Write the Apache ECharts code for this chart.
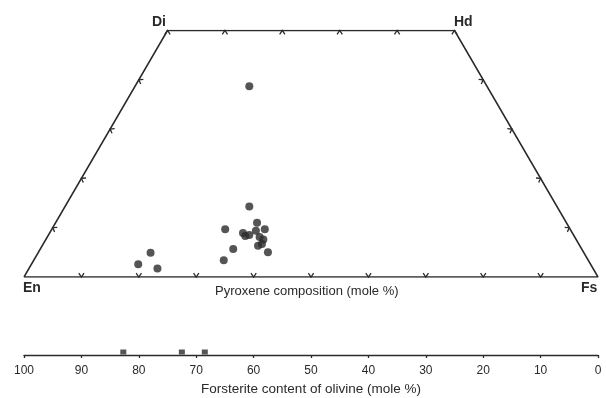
<!DOCTYPE html>
<html>
<head>
<meta charset="utf-8">
<script src="https://cdn.jsdelivr.net/npm/echarts@6/dist/echarts.min.js"></script>
<style>
html,body{margin:0;padding:0;background:#fff;}
#chart{width:606px;height:398px;}
</style>
</head>
<body>
<div id="chart"></div>
<script>
// Pyroxene compositions (mole %): wollastonite and ferrosilite components
const woValues = [38.7, 14.3, 9.7, 11.0, 9.7, 8.9, 8.3, 8.5, 9.4, 8.1, 7.6, 6.7, 6.35, 5.7, 5.0, 3.4, 4.9, 2.6, 1.7];
const fsValues = [19.9, 32.1, 30.2, 35.1, 37.1, 33.7, 34.4, 35.0, 35.7, 37.0, 37.9, 38.1, 37.6, 33.6, 40.0, 33.1, 19.6, 18.6, 22.4];
// Olivine forsterite contents (mole %)
const foValues = [82.7, 72.5, 68.5];
// Quadrilateral corners (Wo, Fs)
const cornerNames = ['En', 'Di', 'Hd', 'Fs'];
const cornerWo = [0, 50, 50, 0];
const cornerFs = [0, 0, 50, 100];
// Tick marks on the quadrilateral edges (mole %)
const baseTicks = [10, 20, 30, 40, 50, 60, 70, 80, 90];
const topTicks = [0, 10, 20, 30, 40, 50];
const sideTicks = [10, 20, 30, 40];
// Forsterite axis tick labels
const foTicks = [100, 90, 80, 70, 60, 50, 40, 30, 20, 10, 0];

const toXY = (wo, fs) => [fs + wo / 2, wo];

const outline = cornerNames.map((n, i) => toXY(cornerWo[i], cornerFs[i]));
outline.push(outline[0].slice());

const pyxData = woValues.map((w, i) => toXY(w, fsValues[i]));

// chevron ticks: [x, y, sideIndex]  0=base 1=top 2=left(Fs=0) 3=right(En=0)
const chevrons = [];
baseTicks.forEach(v => chevrons.push([...toXY(0, v), 0]));
topTicks.forEach(v => chevrons.push([...toXY(50, v), 1]));
sideTicks.forEach(v => chevrons.push([...toXY(v, 0), 2]));
sideTicks.forEach(v => chevrons.push([...toXY(v, 100 - v), 3]));

const sideEnds = [
  [outline[0], outline[3]],
  [outline[1], outline[2]],
  [outline[0], outline[1]],
  [outline[3], outline[2]]
];

const INK = '#2a2a2a';
const FONT = 'Liberation Sans';

const chart = echarts.init(document.getElementById('chart'), null, {renderer: 'canvas'});
chart.setOption({
  animation: false,
  backgroundColor: '#fff',
  grid: [
    {left: 24, width: 574, top: 30.5, height: 246.5},
    {left: 24, width: 574, top: 340, height: 15}
  ],
  xAxis: [
    {gridIndex: 0, type: 'value', min: 0, max: 100, show: false},
    {gridIndex: 1, type: 'value', min: 0, max: 100, interval: 10, inverse: true,
      axisLine: {show: true, onZero: false, lineStyle: {color: INK, width: 1.3}},
      axisTick: {show: true, length: 3, lineStyle: {color: INK, width: 1.3}},
      axisLabel: {show: true, margin: 10, fontSize: 12, color: INK, fontFamily: FONT,
        formatter: v => (foTicks.indexOf(v) >= 0 ? String(v) : '')},
      splitLine: {show: false},
      name: 'Forsterite content of olivine (mole %)',
      nameLocation: 'middle', nameGap: 27,
      nameTextStyle: {fontSize: 13.5, color: INK, fontFamily: FONT}
    }
  ],
  yAxis: [
    {gridIndex: 0, type: 'value', min: 0, max: 50, show: false},
    {gridIndex: 1, type: 'value', min: 0, max: 1, show: false}
  ],
  graphic: [
    {type: 'text', left: 152, top: 15, style: {text: 'Di', fontSize: 14, fontWeight: 'bold', fill: INK, fontFamily: FONT}},
    {type: 'text', left: 454, top: 15, style: {text: 'Hd', fontSize: 14, fontWeight: 'bold', fill: INK, fontFamily: FONT}},
    {type: 'text', left: 23, top: 281, style: {text: 'En', fontSize: 14, fontWeight: 'bold', fill: INK, fontFamily: FONT}},
    {type: 'text', left: 581, top: 281, style: {text: 'Fs', fontSize: 14, fontWeight: 'bold', fill: INK, fontFamily: FONT}},
    {type: 'text', left: 215, top: 285, style: {text: 'Pyroxene composition (mole %)', fontSize: 13, fill: INK, fontFamily: FONT}}
  ],
  series: [
    {type: 'line', xAxisIndex: 0, yAxisIndex: 0, data: outline, symbol: 'none',
      lineStyle: {color: INK, width: 1.5}, silent: true},
    {type: 'custom', xAxisIndex: 0, yAxisIndex: 0, data: chevrons, silent: true,
      renderItem: function (params, api) {
        const p = api.coord([api.value(0), api.value(1)]);
        const ends = sideEnds[api.value(2)];
        const a = api.coord(ends[0]), b = api.coord(ends[1]);
        const dx = b[0] - a[0], dy = b[1] - a[1];
        const len = Math.hypot(dx, dy);
        let nx = -dy / len, ny = dx / len;
        const c = api.coord([50, 25]);
        if ((c[0] - p[0]) * nx + (c[1] - p[1]) * ny < 0) { nx = -nx; ny = -ny; }
        const th = 35 * Math.PI / 180, L = 4.6;
        const arm = s => [p[0] + L * (nx * Math.cos(s * th) - ny * Math.sin(s * th)),
                          p[1] + L * (nx * Math.sin(s * th) + ny * Math.cos(s * th))];
        return {type: 'polyline', shape: {points: [arm(1), p, arm(-1)]},
          style: {stroke: INK, lineWidth: 1.3, fill: null}};
      }
    },
    {type: 'scatter', xAxisIndex: 0, yAxisIndex: 0, data: pyxData, symbol: 'circle', symbolSize: 8,
      itemStyle: {color: '#2b2b2b'}},
    {type: 'scatter', xAxisIndex: 1, yAxisIndex: 1, data: foValues.map(v => [v, 0]), symbol: 'rect',
      symbolSize: [6, 5], symbolOffset: [0, -3], itemStyle: {color: '#2b2b2b'}}
  ]
});
</script>
</body>
</html>
